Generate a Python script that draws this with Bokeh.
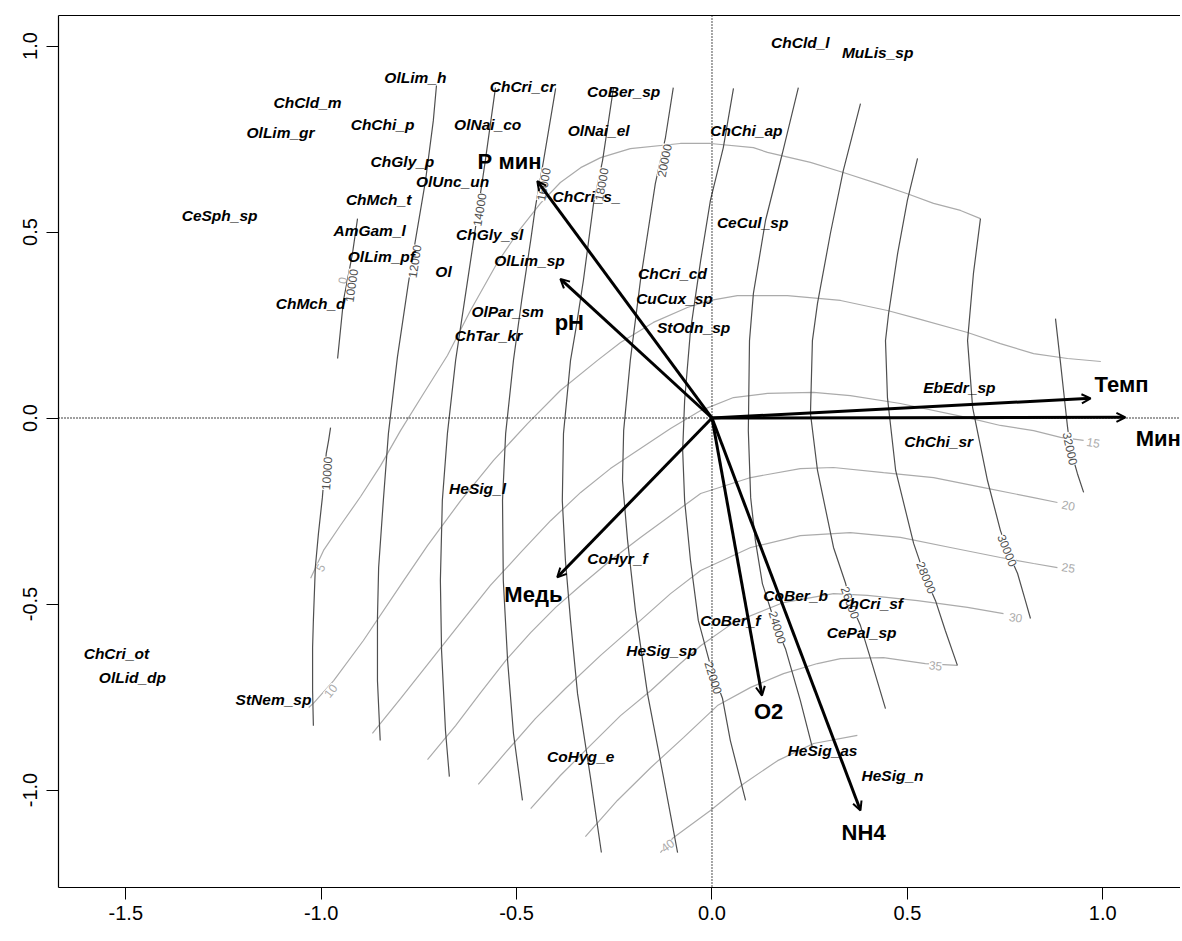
from bokeh.plotting import figure
from bokeh.models import (Range1d, LinearAxis, FixedTicker, CustomJSTickFormatter,
                          Span, Arrow, OpenHead, ColumnDataSource)
from bokeh.core.properties import value
from bokeh.embed import file_html
from bokeh.resources import INLINE

FONT = "Liberation Sans"

# ---------------- data ----------------
x_ticks = [-1.5, -1.0, -0.5, 0.0, 0.5, 1.0]
y_ticks = [-1.0, -0.5, 0.0, 0.5, 1.0]

sp_names = ["ChCld_l", "MuLis_sp", "OlLim_h", "ChCri_cr", "CoBer_sp", "ChCld_m", "ChChi_p",
            "OlNai_co", "OlNai_el", "ChChi_ap", "OlLim_gr", "ChGly_p", "OlUnc_un", "ChMch_t",
            "ChCri_s_", "CeSph_sp", "CeCul_sp", "AmGam_l", "ChGly_sl", "OlLim_pf", "OlLim_sp",
            "Ol", "ChCri_cd", "ChMch_d", "CuCux_sp", "OlPar_sm", "StOdn_sp", "ChTar_kr",
            "EbEdr_sp", "ChChi_sr", "HeSig_l", "CoHyr_f", "CoBer_b", "ChCri_sf", "CoBer_f",
            "CePal_sp", "ChCri_ot", "HeSig_sp", "OlLid_dp", "StNem_sp", "HeSig_as", "CoHyg_e",
            "HeSig_n"]
sp_x = [0.226, 0.424, -0.759, -0.485, -0.226, -1.035, -0.843,
        -0.574, -0.290, 0.088, -1.104, -0.792, -0.664, -0.853,
        -0.321, -1.260, 0.104, -0.876, -0.569, -0.846, -0.467,
        -0.687, -0.101, -1.027, -0.096, -0.523, -0.047, -0.572,
        0.633, 0.580, -0.600, -0.242, 0.214, 0.406, 0.047,
        0.383, -1.524, -0.129, -1.483, -1.122, 0.283, -0.336,
        0.462]
sp_y = [1.009, 0.983, 0.915, 0.891, 0.878, 0.848, 0.789,
        0.789, 0.773, 0.773, 0.767, 0.690, 0.636, 0.587,
        0.595, 0.544, 0.526, 0.504, 0.493, 0.434, 0.423,
        0.394, 0.388, 0.308, 0.321, 0.286, 0.243, 0.222,
        0.082, -0.063, -0.190, -0.378, -0.477, -0.499, -0.544,
        -0.577, -0.633, -0.625, -0.698, -0.757, -0.894, -0.910,
        -0.961]

vec_names = ["Р мин", "pH", "Медь", "O2", "NH4", "Темп", "Мин"]
vec_x = [-0.447, -0.388, -0.396, 0.128, 0.380, 0.969, 1.058]
vec_y = [0.637, 0.374, -0.428, -0.746, -1.055, 0.053, 0.002]
vec_lab_x = [-0.518, -0.365, -0.457, 0.145, 0.388, 1.048, 1.142]
vec_lab_y = [0.690, 0.257, -0.474, -0.789, -1.114, 0.090, -0.055]

# surface of "Мин" (dark contours)
min_line_x = [
    [-0.907, -0.920, -0.933, -0.943, -0.958],
    [-0.976, -0.981, -0.987, -0.992, -0.997, -1.007, -1.015, -1.020, -1.022, -1.022, -1.020],
    [-0.705, -0.713, -0.733, -0.759, -0.777, -0.805, -0.828, -0.841, -0.853, -0.856, -0.856, -0.849],
    [-0.554, -0.580, -0.595, -0.610, -0.633, -0.656, -0.677, -0.690, -0.695, -0.692, -0.682, -0.672],
    [-0.400, -0.431, -0.452, -0.464, -0.487, -0.508, -0.528, -0.536, -0.534, -0.523, -0.508, -0.485],
    [-0.252, -0.280, -0.303, -0.329, -0.349, -0.362, -0.380, -0.383, -0.375, -0.362, -0.344, -0.311, -0.283],
    [-0.099, -0.119, -0.145, -0.183, -0.209, -0.226, -0.229, -0.216, -0.196, -0.165, -0.124, -0.088],
    [0.055, 0.029, -0.004, -0.029, -0.055, -0.070, -0.075, -0.070, -0.055, -0.035, -0.004, 0.027, 0.047, 0.086],
    [0.221, 0.180, 0.137, 0.106, 0.096, 0.093, 0.099, 0.111, 0.129, 0.165, 0.188, 0.226, 0.257],
    [0.380, 0.336, 0.303, 0.270, 0.257, 0.252, 0.270, 0.311, 0.342, 0.354, 0.380, 0.411, 0.444],
    [0.526, 0.500, 0.475, 0.452, 0.444, 0.449, 0.470, 0.516, 0.546, 0.572, 0.597, 0.628],
    [0.687, 0.669, 0.654, 0.667, 0.705, 0.738, 0.756, 0.782, 0.802, 0.815],
    [0.879, 0.892, 0.910, 0.917, 0.935, 0.951],
]
min_line_y = [
    [0.536, 0.442, 0.370, 0.316, 0.160],
    [-0.026, -0.060, -0.095, -0.149, -0.214, -0.310, -0.402, -0.544, -0.617, -0.733, -0.827],
    [0.894, 0.800, 0.638, 0.477, 0.362, 0.163, -0.042, -0.222, -0.402, -0.536, -0.706, -0.867],
    [0.888, 0.692, 0.585, 0.477, 0.316, 0.155, -0.042, -0.222, -0.437, -0.625, -0.840, -0.964],
    [0.886, 0.692, 0.566, 0.477, 0.316, 0.155, -0.042, -0.222, -0.437, -0.652, -0.848, -1.028],
    [0.888, 0.692, 0.577, 0.370, 0.235, 0.155, -0.042, -0.222, -0.383, -0.544, -0.741, -0.966, -1.168],
    [0.888, 0.754, 0.630, 0.370, 0.155, -0.034, -0.168, -0.329, -0.517, -0.741, -0.966, -1.168],
    [0.886, 0.727, 0.585, 0.423, 0.235, 0.047, -0.087, -0.222, -0.383, -0.544, -0.665, -0.754, -0.867, -1.028],
    [0.888, 0.711, 0.531, 0.335, 0.208, -0.034, -0.214, -0.329, -0.445, -0.563, -0.620, -0.759, -0.886],
    [0.845, 0.665, 0.496, 0.308, 0.208, 0.012, -0.141, -0.348, -0.445, -0.496, -0.558, -0.665, -0.781],
    [0.698, 0.585, 0.442, 0.281, 0.208, 0.055, -0.141, -0.337, -0.429, -0.491, -0.571, -0.665],
    [0.536, 0.388, 0.208, 0.028, -0.168, -0.302, -0.356, -0.418, -0.491, -0.539],
    [0.267, 0.147, -0.026, -0.082, -0.149, -0.200],
]
min_lab_text = ["10000", "10000", "12000", "14000", "16000", "18000", "20000",
                "22000", "24000", "26000", "28000", "30000", "32000"]
min_lab_x = [-0.923, -0.986, -0.761, -0.595, -0.431, -0.283, -0.122,
             0.004, 0.168, 0.354, 0.549, 0.756, 0.917]
min_lab_y = [0.356, -0.149, 0.421, 0.560, 0.628, 0.628, 0.692,
             -0.698, -0.563, -0.496, -0.429, -0.356, -0.082]
min_lab_angle = [82, 86, 81, 81, 80, 80, 79, -73, -73, -70, -68, -68, -78]

# surface of "Темп" (light contours)
tmp_line_x = [
    [-1.027, -0.994, -0.951, -0.899, -0.848, -0.797, -0.738, -0.677, -0.618, -0.549, -0.490, -0.439,
     -0.388, -0.336, -0.285, -0.209, -0.081, -0.004, 0.106, 0.142, 0.252, 0.336, 0.424, 0.500, 0.567,
     0.636, 0.687],
    [-1.032, -1.020, -0.968, -0.892, -0.789, -0.728, -0.643, -0.559, -0.472, -0.388, -0.293, -0.234,
     -0.150, -0.063, -0.004, 0.065, 0.193, 0.329, 0.449, 0.526, 0.654, 0.738, 0.823, 0.910, 0.995],
    [-0.869, -0.797, -0.720, -0.643, -0.567, -0.490, -0.413, -0.336, -0.260, -0.183, -0.106, -0.029,
     0.055, 0.142, 0.260, 0.354, 0.482, 0.654, 0.738, 0.823, 0.892, 0.951],
    [-0.728, -0.656, -0.592, -0.528, -0.464, -0.400, -0.336, -0.260, -0.183, -0.106, -0.029, 0.099,
     0.226, 0.311, 0.439, 0.567, 0.695, 0.823, 0.884],
    [-0.598, -0.528, -0.452, -0.375, -0.285, -0.183, -0.106, -0.029, 0.099, 0.226, 0.354, 0.482,
     0.610, 0.738, 0.823, 0.884],
    [-0.464, -0.388, -0.311, -0.234, -0.157, -0.081, -0.029, 0.055, 0.183, 0.311, 0.398, 0.526,
     0.654, 0.746],
    [-0.324, -0.242, -0.157, -0.073, 0.014, 0.099, 0.183, 0.270, 0.329, 0.439, 0.546, 0.628],
    [-0.132, -0.099, -0.004, 0.081, 0.168, 0.260, 0.372],
]
tmp_line_y = [
    [-0.431, -0.356, -0.289, -0.211, -0.128, -0.034, 0.066, 0.168, 0.289, 0.418, 0.509, 0.577,
     0.633, 0.673, 0.700, 0.724, 0.738, 0.738, 0.727, 0.714, 0.687, 0.660, 0.630, 0.603, 0.577,
     0.558, 0.536],
    [-0.778, -0.767, -0.706, -0.598, -0.437, -0.343, -0.222, -0.114, -0.015, 0.074, 0.155, 0.203,
     0.257, 0.297, 0.316, 0.329, 0.329, 0.316, 0.289, 0.267, 0.230, 0.200, 0.173, 0.160, 0.152],
    [-0.848, -0.754, -0.652, -0.550, -0.450, -0.362, -0.276, -0.200, -0.136, -0.082, -0.028, 0.020,
     0.055, 0.066, 0.069, 0.060, 0.039, 0.001, -0.020, -0.034, -0.052, -0.060],
    [-0.918, -0.827, -0.738, -0.652, -0.577, -0.509, -0.450, -0.383, -0.321, -0.262, -0.203, -0.160,
     -0.136, -0.133, -0.147, -0.160, -0.187, -0.214, -0.227],
    [-0.985, -0.899, -0.808, -0.727, -0.638, -0.544, -0.472, -0.410, -0.348, -0.316, -0.308, -0.321,
     -0.348, -0.375, -0.391, -0.402],
    [-1.050, -0.961, -0.880, -0.800, -0.733, -0.660, -0.612, -0.550, -0.496, -0.472, -0.477, -0.491,
     -0.509, -0.526],
    [-1.125, -1.028, -0.940, -0.859, -0.773, -0.724, -0.687, -0.660, -0.647, -0.644, -0.660, -0.665],
    [-1.168, -1.128, -1.055, -0.983, -0.921, -0.875, -0.853],
]
tmp_lab_text = ["0", "5", "10", "15", "20", "25", "30", "35", "40"]
tmp_lab_x = [-0.946, -1.002, -0.976, 0.976, 0.912, 0.912, 0.777, 0.572, -0.114]
tmp_lab_y = [0.370, -0.402, -0.733, -0.066, -0.235, -0.402, -0.536, -0.665, -1.149]
tmp_lab_angle = [80, 62, 51, -10, -11, -9, -8, -6, 36]

# ---------------- figure ----------------
DARK = "#4f4f4f"
LIGHT = "#ababab"

p = figure(width=1180, height=933,
           x_range=Range1d(-1.6722, 1.1989), y_range=Range1d(-1.262, 1.082),
           output_backend="svg", toolbar_location=None,
           min_border_left=58, min_border_right=0, min_border_top=15, min_border_bottom=46)
p.grid.visible = False
p.outline_line_color = None
p.background_fill_color = "white"
p.border_fill_color = "white"

fmt = CustomJSTickFormatter(code="return tick.toFixed(1);")
for ax, ticks in ((p.xaxis[0], x_ticks), (p.yaxis[0], y_ticks)):
    ax.ticker = FixedTicker(ticks=ticks)
    ax.formatter = fmt
    ax.minor_tick_line_color = None
    ax.major_tick_in = 0
    ax.major_tick_out = 12
    ax.major_tick_line_color = "black"
    ax.axis_line_color = "black"
    ax.axis_line_width = 1.2
    ax.major_label_text_font = FONT
    ax.major_label_text_font_size = "20px"
    ax.major_label_text_color = "black"
p.xaxis[0].major_label_standoff = 6
p.yaxis[0].major_label_standoff = 9
p.yaxis[0].major_label_orientation = "vertical"

top = LinearAxis(ticker=FixedTicker(ticks=[]), major_tick_line_color=None,
                 minor_tick_line_color=None, major_label_text_font_size="0px",
                 axis_line_color="black")
p.add_layout(top, "above")

# light contours (Темп)
p.multi_line(xs=tmp_line_x, ys=tmp_line_y, line_color=LIGHT, line_width=1.2)
p.text(x=tmp_lab_x, y=tmp_lab_y, text=tmp_lab_text, angle=tmp_lab_angle, angle_units="deg",
       text_font=value(FONT), text_font_size="12px", text_color=LIGHT,
       text_align="center", text_baseline="middle", background_fill_color="white")

# dark contours (Мин)
p.multi_line(xs=min_line_x, ys=min_line_y, line_color=DARK, line_width=1.2)
p.text(x=min_lab_x, y=min_lab_y, text=min_lab_text, angle=min_lab_angle, angle_units="deg",
       text_font=value(FONT), text_font_size="12px", text_color=DARK,
       text_align="center", text_baseline="middle", background_fill_color="white")

# zero lines
p.add_layout(Span(location=0, dimension="width", line_color="black", line_width=1.4, line_dash="1 2"))
p.add_layout(Span(location=0, dimension="height", line_color="black", line_width=1.4, line_dash="1 2"))

# species
p.text(x=sp_x, y=sp_y, text=sp_names, text_font=value(FONT), text_font_style="bold italic",
       text_font_size="15.5px", text_color="black", text_align="center", text_baseline="middle")

# vectors
vsrc = ColumnDataSource(dict(x0=[0.0] * len(vec_x), y0=[0.0] * len(vec_y), x1=vec_x, y1=vec_y))
p.add_layout(Arrow(end=OpenHead(size=9, line_width=2, line_color="black"),
                   x_start="x0", y_start="y0", x_end="x1", y_end="y1",
                   line_width=3, line_color="black", source=vsrc))
p.text(x=vec_lab_x, y=vec_lab_y, text=vec_names, text_font=value(FONT), text_font_style="bold",
       text_font_size="22px", text_color="black", text_align="center", text_baseline="middle")

open("out.html", "w").write(file_html(p, INLINE))
